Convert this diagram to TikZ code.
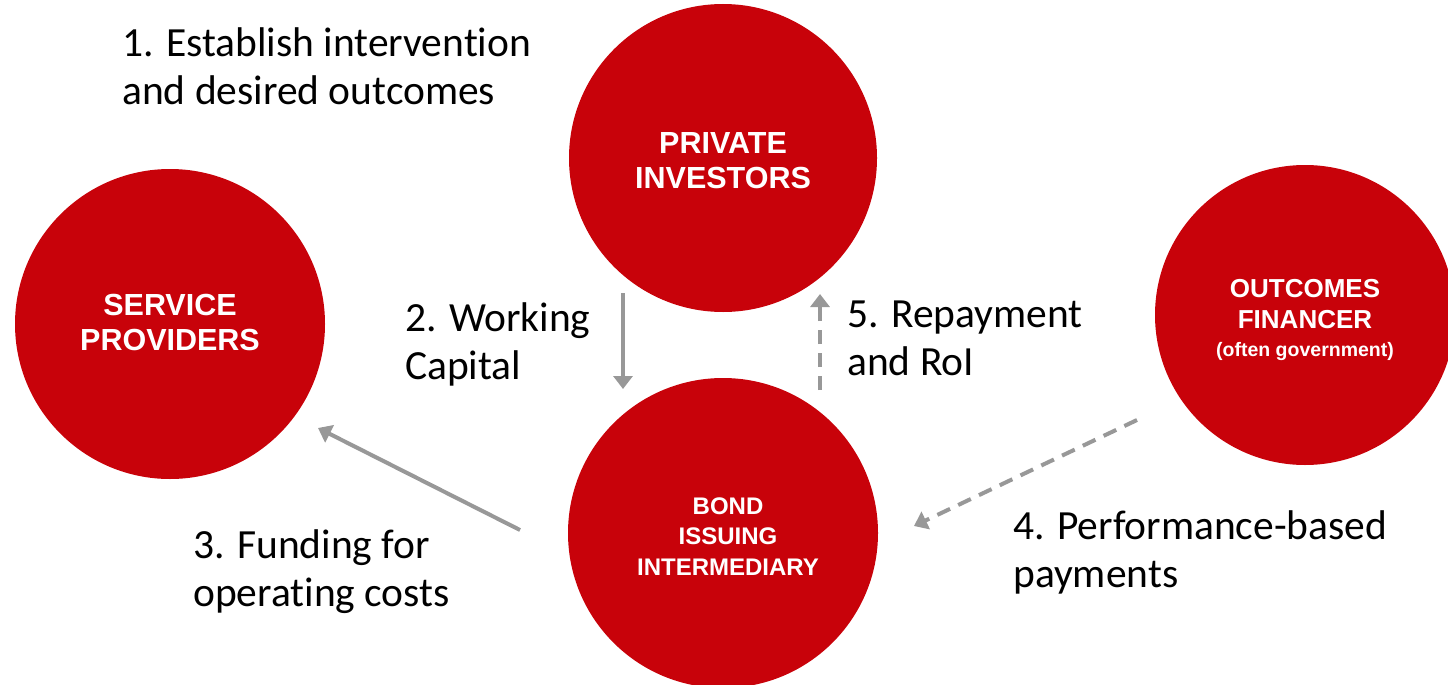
\documentclass[tikz,border=0pt]{standalone}
\usepackage{fontspec}
\setmainfont{Carlito}[Ligatures=NoCommon]
\newfontfamily\discfont{Liberation Sans}
\usetikzlibrary{arrows.meta}
\definecolor{discred}{RGB}{200,2,10}
\definecolor{flowgray}{RGB}{152,152,152}
\newcommand\bigsize{\fontsize{26}{31}\selectfont}
\newcommand\smallsize{\fontsize{19.5}{29}\selectfont}
\begin{document}
\begin{tikzpicture}[x=1pt,y=-1pt,
  disc/.style={circle,fill=discred,draw=none,inner sep=0pt,minimum size=#1},
  disctext/.style={text=white,align=center,inner sep=0pt},
  caption/.style={anchor=west,inner sep=0pt,align=left,
    font=\fontsize{41.5}{48}\selectfont},
  flow/.style={draw=flowgray,line width=4pt,
    -{Triangle[length=13pt,width=19pt]}},
  flowdash/.style={flow,dash pattern=on 14pt off 9pt}]
\useasboundingbox (0,0) rectangle (1448,685);

% the four parties
\node[disc=308pt] (pi) at (723,158) {};
\node[disc=310pt] (sp) at (170,324) {};
\node[disc=310pt] (bi) at (723,533) {};
\node[disc=300pt] (of) at (1305,315) {};

% their names (shifts are in page units, positive upwards)
\node[disctext,font=\discfont\bfseries\fontsize{30.5}{35}\selectfont]
  (piT) at ([yshift=-3pt]pi.center) {PRIVATE\\INVESTORS};
\node[disctext,font=\discfont\bfseries\fontsize{30.5}{35}\selectfont]
  (spT) at ([yshift=1.5pt]sp.center) {SERVICE\\PROVIDERS};
\node[disctext,font=\discfont\bfseries\fontsize{24}{30.5}\selectfont]
  (biT) at ([xshift=5pt,yshift=-3.5pt]bi.center) {BOND\\ISSUING\\INTERMEDIARY};
\node[disctext,font=\discfont\bfseries\bigsize]
  (ofT) at ([yshift=-5pt]of.center) {OUTCOMES\\FINANCER\\[-3pt]\smallsize (often government)};

% arrow end points
\coordinate (wcA) at (623,293);
\coordinate (wcB) at (623,389);
\coordinate (rpA) at (820,390);
\coordinate (rpB) at (820,294);
\coordinate (fdA) at (520,530);
\coordinate (fdB) at (318,428);
\coordinate (pbA) at (1137,420);
\coordinate (pbB) at (914,526);

\draw[flow] (wcA) -- (wcB);
\draw[flowdash] (rpA) -- (rpB);
\draw[flow] (fdA) -- (fdB);
\draw[flowdash] (pbA) -- (pbB);

% step captions
\node[caption] (c1) at (122,66) {1. Establish intervention\\and desired outcomes};
\node[caption] (c2) at (405,344) {2. Working\\Capital};
\node[caption] (c3) at (193,572) {3. Funding for\\operating costs};
\node[caption] (c4) at (1013,552) {4. Performance-based\\payments};
\node[caption] (c5) at (847,338) {5. Repayment\\and RoI};
\end{tikzpicture}
\end{document}
